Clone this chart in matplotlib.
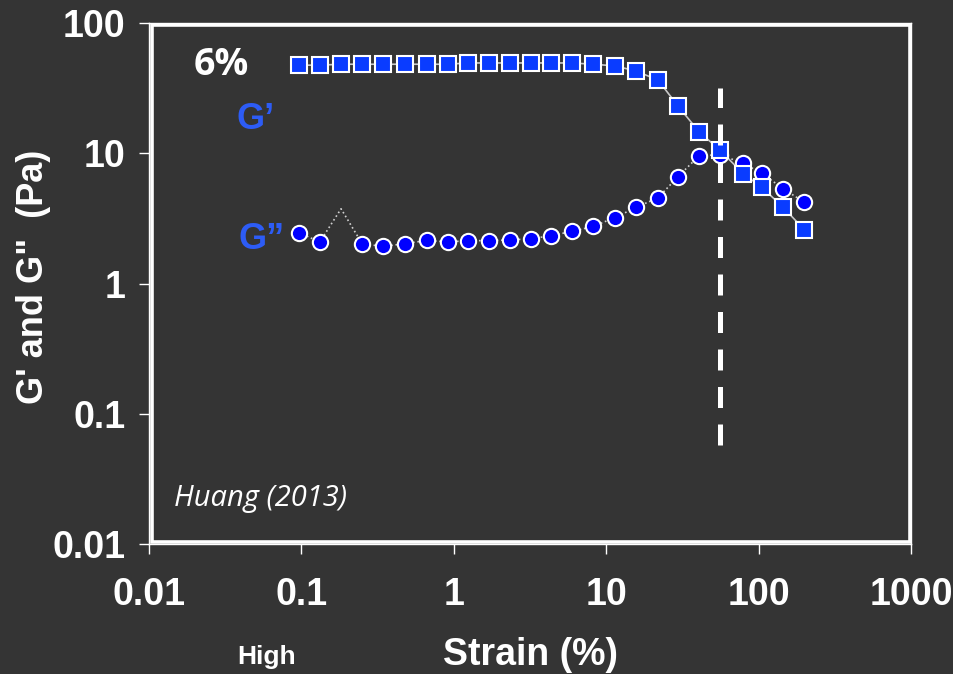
import matplotlib
matplotlib.use("Agg")
import matplotlib.pyplot as plt
from matplotlib.ticker import FixedLocator, NullLocator
from matplotlib.patches import Rectangle

# strain values (%)
strain = [0.096, 0.132, 0.182, 0.25, 0.343, 0.479, 0.667, 0.916, 1.24, 1.70,
          2.34, 3.21, 4.35, 5.97, 8.19, 11.4, 15.7, 21.9, 29.6, 40.6,
          55.8, 79.1, 105, 145, 199]

# storage modulus G' (Pa)
g_storage = [47.7, 47.7, 48.5, 48.5, 48.5, 48.5, 48.5, 48.5, 49.6, 49.6,
             49.6, 49.6, 49.6, 49.6, 48.5, 47.1, 43.0, 36.6, 23.1, 14.7,
             10.6, 7.0, 5.5, 3.85, 2.6]

# loss modulus G'' (Pa); third point has no marker in the source
g_loss = [2.47, 2.09, 3.76, 2.03, 1.93, 2.03, 2.15, 2.09, 2.14, 2.14,
          2.17, 2.21, 2.34, 2.52, 2.75, 3.22, 3.85, 4.58, 6.64, 9.6,
          9.8, 8.4, 7.05, 5.35, 4.23]
loss_hidden = [2]

crossover_strain = 56
crossover_span = (0.058, 32)

xticks = [0.01, 0.1, 1, 10, 100, 1000]
xticklabels = ["0.01", "0.1", "1", "10", "100", "1000"]
yticks = [0.01, 0.1, 1, 10, 100]
yticklabels = ["0.01", "0.1", "1", "10", "100"]

bg = "#343434"
fg = "white"
label_blue = "#2d5cf5"

plt.rcParams["font.family"] = ["Liberation Sans", "DejaVu Sans"]

fig = plt.figure(figsize=(9.54, 6.74), dpi=100, facecolor=bg)
ax = fig.add_axes([0.1562, 0.1929, 0.7988, 0.7725], facecolor=bg)

ax.set_xscale("log")
ax.set_yscale("log")
ax.set_xlim(0.01, 1000)
ax.set_ylim(0.01, 100)

# G'' circles (under squares)
shown = [i for i in range(len(strain)) if i not in loss_hidden]
ax.plot(strain, g_loss, linestyle=":", color="#d0d0d0", lw=1.2,
        marker="o", markevery=shown, markersize=11, markerfacecolor="#0000ff",
        markeredgecolor="white", markeredgewidth=1.5, zorder=3)

# G' squares
ax.plot(strain, g_storage, linestyle="-", color="#c8c8c8", lw=1.2,
        marker="s", markersize=11, markerfacecolor="#0a3cff",
        markeredgecolor="white", markeredgewidth=1.5, zorder=4)

# crossover dashed line
ax.vlines(crossover_strain, *crossover_span, colors=fg, lw=3.6,
          linestyles=(0, (4.2, 3.3)), zorder=5)

# axes styling
for side in ["left", "bottom", "top", "right"]:
    ax.spines[side].set_color(fg)
    ax.spines[side].set_linewidth(1)
ax.add_patch(Rectangle((0.004, 0.003), 0.994, 0.994, transform=ax.transAxes,
                       fill=False, edgecolor=fg, lw=2.6, zorder=6, clip_on=False))

ax.xaxis.set_major_locator(FixedLocator(xticks))
ax.yaxis.set_major_locator(FixedLocator(yticks))
ax.xaxis.set_minor_locator(NullLocator())
ax.yaxis.set_minor_locator(NullLocator())
ax.set_xticklabels(xticklabels)
ax.set_yticklabels(yticklabels)
ax.tick_params(axis="both", direction="out", length=7, width=1, color=fg,
               labelcolor=fg, labelsize=27)
ax.tick_params(axis="x", pad=17)
ax.tick_params(axis="y", pad=10)
for lab in ax.get_xticklabels() + ax.get_yticklabels():
    lab.set_fontweight("bold")

ax.set_xlabel("Strain (%)", fontsize=27, fontweight="bold", color=fg, va="center")
ax.xaxis.set_label_coords(0.5, -0.213)
ax.set_ylabel("G' and G\"  (Pa)", fontsize=26, fontweight="bold", color=fg, va="center")
ax.yaxis.set_label_coords(-0.152, 0.513)

# annotations
ax.text(0.058, 0.92, "6%", transform=ax.transAxes, fontsize=27, fontweight="bold",
        color=fg, family=["Open Sans", "DejaVu Sans"], va="center", ha="left")
ax.text(0.115, 0.816, "G\u2019", transform=ax.transAxes, fontsize=26, fontweight="bold",
        color=label_blue, va="center", ha="left")
ax.text(0.117, 0.585, "G\u201d", transform=ax.transAxes, fontsize=26, fontweight="bold",
        color=label_blue, va="center", ha="left")
ax.text(0.033, 0.088, "Huang (2013)", transform=ax.transAxes, fontsize=21,
        style="italic", color=fg, family=["Open Sans", "DejaVu Sans"],
        va="center", ha="left")

fig.text(0.279, 0.025, "High", fontsize=19, fontweight="bold", color=fg,
         ha="center", va="center")

fig.savefig("out.png", dpi=100, facecolor=bg)
